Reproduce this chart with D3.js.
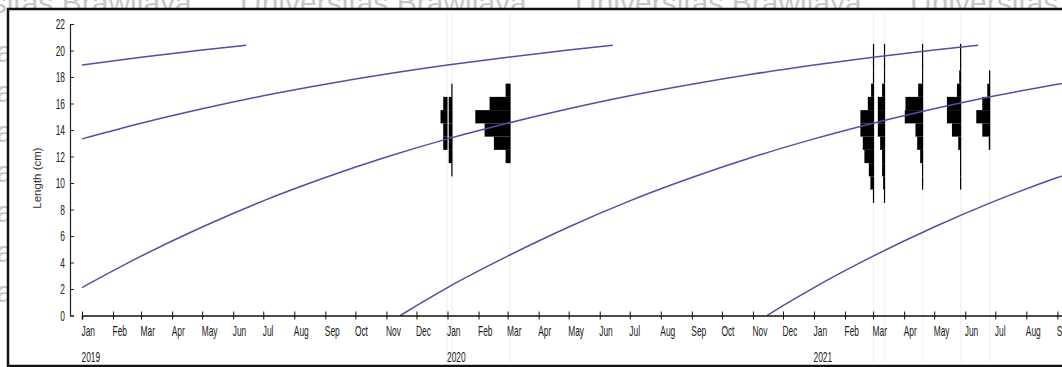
<!DOCTYPE html>
<html>
<head>
<meta charset="utf-8">
<script src="https://cdn.jsdelivr.net/npm/d3@7"></script>
<style>
  html, body { margin: 0; padding: 0; background: #fff; }
  svg { display: block; }
</style>
</head>
<body>
<svg id="chart" width="1062" height="367"></svg>
<script>
// ---- tick labels ----
const lengthTicks = [0, 2, 4, 6, 8, 10, 12, 14, 16, 18, 20, 22];
const monthNames = ["Jan", "Feb", "Mar", "Apr", "May", "Jun", "Jul", "Aug", "Sep", "Oct", "Nov", "Dec"];
const yearLabels = ["2019", "2020", "2021"];
const yAxisTitle = "Length (cm)";
const watermarkText = "Universitas Brawijaya";

// ---- growth curves, one per cohort: [date, length in cm] ----
const cohort2016 = [["2019-01-01", 18.90], ["2019-03-01", 19.49], ["2019-05-01", 20.03], ["2019-06-14", 20.39]];
const cohort2017 = [["2019-01-01", 13.33], ["2019-03-01", 14.51], ["2019-05-01", 15.60], ["2019-07-01", 16.58],
  ["2019-09-01", 17.45], ["2019-11-01", 18.22], ["2020-01-01", 18.90], ["2020-03-01", 19.49],
  ["2020-05-01", 20.03], ["2020-06-14", 20.39]];
const cohort2018 = [["2019-01-01", 2.11], ["2019-03-01", 4.48], ["2019-05-01", 6.68], ["2019-07-01", 8.65],
  ["2019-09-01", 10.41], ["2019-11-01", 11.96], ["2020-01-01", 13.33], ["2020-03-01", 14.51],
  ["2020-05-01", 15.60], ["2020-07-01", 16.58], ["2020-09-01", 17.45], ["2020-11-01", 18.22],
  ["2021-01-01", 18.90], ["2021-03-01", 19.49], ["2021-05-01", 20.03], ["2021-06-14", 20.39]];
const cohort2019 = [["2019-11-15", 0], ["2019-12-01", 0.74], ["2020-01-01", 2.11], ["2020-03-01", 4.48],
  ["2020-05-01", 6.68], ["2020-07-01", 8.65], ["2020-09-01", 10.41], ["2020-11-01", 11.96],
  ["2021-01-01", 13.33], ["2021-03-01", 14.51], ["2021-05-01", 15.60], ["2021-07-01", 16.58],
  ["2021-09-01", 17.45], ["2021-11-01", 18.22]];
const cohort2020 = [["2020-11-15", 0], ["2020-12-01", 0.74], ["2021-01-01", 2.11], ["2021-03-01", 4.48],
  ["2021-05-01", 6.68], ["2021-07-01", 8.65], ["2021-09-01", 10.41], ["2021-11-01", 11.96]];

// ---- length-frequency samples: date of sampling, then [class mid-length, frequency] ----
const sampleDates = ["2020-01-01", "2020-01-06", "2020-03-04", "2021-03-02", "2021-03-13", "2021-04-20", "2021-05-28", "2021-06-26"];
const sampleJan01 = [[13, 4.3], [14, 4.3], [15, 7], [16, 4.3]];
const sampleJan06 = [[11, 1.2], [12, 3.8], [13, 3.8], [14, 3.8], [15, 3.8], [16, 3.8], [17, 1.2]];
const sampleMar04 = [[12, 5], [13, 16.7], [14, 26], [15, 35.3], [16, 21], [17, 5]];
const sampleMar02 = [[9, 1.2], [10, 3.7], [11, 5.3], [12, 9.7], [13, 11.3], [14, 13.7], [15, 13.7], [16, 6.3], [17, 3], [18, 1.2], [19, 1.2], [20, 1.2]];
const sampleMar13 = [[9, 1.2], [10, 2], [11, 3], [12, 3], [13, 5], [14, 7.3], [15, 7.3], [16, 7.3], [17, 3], [18, 1.2], [19, 1.2], [20, 1.2]];
const sampleApr20 = [[10, 1.2], [11, 1.2], [12, 3], [13, 6], [14, 7.7], [15, 18.4], [16, 17.7], [17, 5], [18, 1.2], [19, 1.2], [20, 1.2]];
const sampleMay28 = [[10, 1.2], [11, 1.2], [12, 1.2], [13, 3], [14, 9.3], [15, 14.3], [16, 14.3], [17, 4.3], [18, 2], [19, 1.2], [20, 1.2]];
const sampleJun26 = [[13, 1.5], [14, 8], [15, 14], [16, 8], [17, 3], [18, 1.2]];
const sampleBins = [sampleJan01, sampleJan06, sampleMar04, sampleMar02, sampleMar13, sampleApr20, sampleMay28, sampleJun26];

// ---- layout ----
const W = 1062, H = 367;
const frame = { left: 8, top: 9, bottom: 366 };
const parseDate = d3.timeParse("%Y-%m-%d");

const svg = d3.select("#chart");

// faint watermark behind the figure: one row along the top, row ends down the left margin
const wm = svg.append("g").attr("fill", "#c6c6c6")
  .attr("font-family", "Liberation Sans, Arial, sans-serif").attr("font-size", 30);
[-95, 240, 575, 910].forEach(x0 => {
  wm.append("text").attr("x", x0).attr("y", 13).text(watermarkText);
});
d3.range(7).forEach(i => {
  wm.append("text").attr("x", 13).attr("y", 62 + i * 40)
    .attr("text-anchor", "end").text(watermarkText);
});

// figure panel
svg.append("rect")
  .attr("x", frame.left).attr("y", frame.top)
  .attr("width", W - frame.left + 5).attr("height", frame.bottom - frame.top)
  .attr("fill", "#fff").attr("stroke", "#111").attr("stroke-width", 2.5);

const x = d3.scaleTime()
  .domain([parseDate("2019-01-01"), parseDate("2022-01-01")])
  .range([82, 82 + 1096 * 1.0014]);
const y = d3.scaleLinear().domain([0, 22]).range([315.5, 24]);
const freqWidth = d3.scaleLinear().domain([0, 1]).range([0, 1]);

const plot = svg.append("g");
plot.append("clipPath").attr("id", "panel-clip")
  .append("rect").attr("x", frame.left + 2).attr("y", frame.top + 2)
  .attr("width", W).attr("height", frame.bottom - frame.top - 4);

// sampling-date guide lines
plot.append("g").selectAll("line")
  .data(sampleDates)
  .join("line")
  .attr("x1", d => x(parseDate(d)) - 0.5).attr("x2", d => x(parseDate(d)) - 0.5)
  .attr("y1", frame.top + 4).attr("y2", frame.bottom - 4)
  .attr("stroke", "#f3f3f3").attr("stroke-width", 1.5);

// length-frequency histograms, bars extending left of the sampling date
const hist = plot.append("g").attr("fill", "#000");
sampleDates.forEach((d, i) => {
  const x0 = x(parseDate(d));
  hist.append("g").selectAll("rect")
    .data(sampleBins[i])
    .join("rect")
    .attr("x", b => x0 - freqWidth(b[1]))
    .attr("width", b => freqWidth(b[1]))
    .attr("y", b => y(b[0] + 0.5))
    .attr("height", b => y(b[0] - 0.5) - y(b[0] + 0.5));
});

// growth curves
const line = d3.line()
  .x(p => x(parseDate(p[0])))
  .y(p => y(p[1]))
  .curve(d3.curveMonotoneX);
plot.append("g").attr("clip-path", "url(#panel-clip)")
  .selectAll("path")
  .data([cohort2016, cohort2017, cohort2018, cohort2019, cohort2020])
  .join("path")
  .attr("d", line)
  .attr("fill", "none")
  .attr("stroke", "#5050a2").attr("stroke-width", 1.5);

// y axis
const yAxis = svg.append("g").attr("transform", "translate(70,0)")
  .call(d3.axisRight(y).tickValues(lengthTicks).tickSize(4).tickFormat(""));
yAxis.select(".domain").attr("stroke", "#222").attr("stroke-width", 1.2);
yAxis.selectAll(".tick line").attr("stroke", "#222");
svg.append("g").attr("font-family", "Liberation Sans, Arial, sans-serif")
  .attr("font-size", 14).attr("fill", "#222")
  .selectAll("text").data(lengthTicks).join("text")
  .attr("transform", d => `translate(65,${y(d) + 5}) scale(0.6,1)`)
  .attr("text-anchor", "end").text(d => d);

svg.append("text")
  .attr("transform", `translate(41,178) rotate(-90)`)
  .attr("text-anchor", "middle")
  .attr("font-family", "Liberation Sans, Arial, sans-serif").attr("font-size", 11.5)
  .attr("fill", "#333").text(yAxisTitle);

// time axis
const months = x.ticks(d3.timeMonth.every(1));
const xAxis = svg.append("g").attr("transform", `translate(0,${y(0)})`)
  .call(d3.axisBottom(x).tickValues(months).tickSize(4).tickFormat(""));
xAxis.select(".domain").attr("stroke", "#111").attr("stroke-width", 1.5);
xAxis.selectAll(".tick line").attr("stroke", "#111").attr("y1", -4);
const labels = svg.append("g").attr("font-family", "Liberation Sans, Arial, sans-serif")
  .attr("font-size", 14).attr("fill", "#1a1a1a");
labels.selectAll("text.month").data(months).join("text").attr("class", "month")
  .attr("transform", d => `translate(${x(d) - 0.5},335.5) scale(0.6,1)`)
  .text(d => monthNames[d.getMonth()]);
labels.selectAll("text.year").data(yearLabels).join("text").attr("class", "year")
  .attr("transform", d => `translate(${x(parseDate(d + "-01-01")) - 0.5},361.5) scale(0.6,1)`)
  .text(d => d);
</script>
</body>
</html>
